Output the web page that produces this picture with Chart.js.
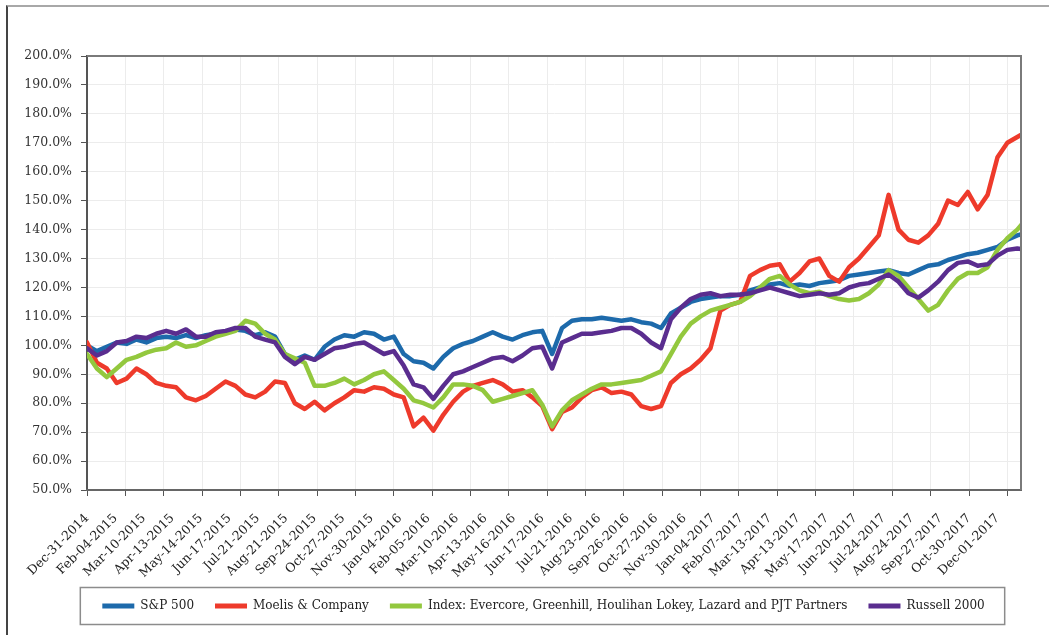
<!DOCTYPE html>
<html>
<head>
<meta charset="utf-8">
<script src="https://cdn.jsdelivr.net/npm/chart.js@4.4.1/dist/chart.umd.min.js"></script>
<style>
html,body{margin:0;padding:0;background:#fff;}
#wrap{position:relative;width:1049px;height:635px;overflow:hidden;}
canvas{position:absolute;left:0;top:0;}
#frame{position:absolute;left:6px;top:5px;right:0;bottom:0;border-top:2px solid #a8a8a8;border-left:2px solid #444;pointer-events:none;}
</style>
</head>
<body>
<div id="wrap"><canvas id="c" width="1049" height="635"></canvas><div id="frame"></div></div>
<script>
// Trading-day axis labels (one every 23 trading days)
const tickLabels = ["Dec-31-2014","Feb-04-2015","Mar-10-2015","Apr-13-2015","May-14-2015","Jun-17-2015","Jul-21-2015","Aug-21-2015","Sep-24-2015","Oct-27-2015","Nov-30-2015","Jan-04-2016","Feb-05-2016","Mar-10-2016","Apr-13-2016","May-16-2016","Jun-17-2016","Jul-21-2016","Aug-23-2016","Sep-26-2016","Oct-27-2016","Nov-30-2016","Jan-04-2017","Feb-07-2017","Mar-13-2017","Apr-13-2017","May-17-2017","Jun-20-2017","Jul-24-2017","Aug-24-2017","Sep-27-2017","Oct-30-2017","Dec-01-2017"];
const LABEL_EVERY = 23;      // trading days between labels
const TICK_EVERY = 31;       // trading days between tick marks / gridlines
const LAST_DAY = 755;        // last trading-day index on the axis
const SAMPLE_STEP = 8;       // trading days between sampled values

const seriesNames = ["S&P 500","Moelis & Company","Index: Evercore, Greenhill, Houlihan Lokey, Lazard and PJT Partners","Russell 2000"];

const sp500 = [100,98,99.5,101,100.5,102,101,102.5,103,102.5,103.5,102.5,103.5,104,104.5,105.5,105,103.5,104.5,103,
  97,95,96.5,95,99.5,102,103.5,103,104.5,104,102,103,97,94.5,94,92,96,99,100.5,101.5,
  103,104.5,103,102,103.5,104.5,105,97,106,108.5,109,109,109.5,109,108.5,109,108,107.5,106,111,
  113,115,116,116.5,117,117,117.5,119,120,121,121.5,120.5,121,120.5,121.5,122,122.5,124,124.5,125,
  125.5,126,125,124.5,126,127.5,128,129.5,130.5,131.5,132,133,134,136.5,138,139];

const moelis = [101,94,92,87,88.5,92,90,87,86,85.5,82,81,82.5,85,87.5,86,83,82,84,87.5,
  87,80,78,80.5,77.5,80,82,84.5,84,85.5,85,83,82,72,75,70.5,76,80.5,84,86,
  87,88,86.5,84,84.5,82,79,71,77,78.5,82,84.5,85.5,83.5,84,83,79,78,79,87,
  90,92,95,99,112,114,115,124,126,127.5,128,122,125,129,130,124,122,127,130,134,
  138,152,140,136.5,135.5,138,142,150,148.5,153,147,152,165,170,172,174];

const peerIndex = [97,92,89,92,95,96,97.5,98.5,99,101,99.5,100,101.5,103,104,105,108.5,107.5,104,102,
  97,95.5,94,86,86,87,88.5,86.5,88,90,91,88,85,81,80,78.5,82,86.5,86.5,86,
  84.5,80.5,81.5,82.5,83.5,84.5,79.5,72,77.5,81,83,85,86.5,86.5,87,87.5,88,89.5,91,97,
  103,107.5,110,112,113,114,115,117,120,123,124,121,119,118,118.5,117,116,115.5,116,118,
  121,126,124,120,116,112,114,119,123,125,125,127,133,137,140,144];

const russell = [99,96.5,98,101,101.5,103,102.5,104,105,104,105.5,103,103,104.5,105,106,106,103,102,101,
  96,93.5,96,95,97,99,99.5,100.5,101,99,97,98,93,86.5,85.5,81.5,86,90,91,92.5,
  94,95.5,96,94.5,96.5,99,99.5,92,101,102.5,104,104,104.5,105,106,106,104,101,99,109,
  113,116,117.5,118,117,117.5,117.5,118,119,120,119,118,117,117.5,118,117.5,118,120,121,121.5,
  123,124.5,122,118,116.5,119,122,126,128.5,129,127.5,128,131,133,133.5,133];

const colors = ["#1d6aab","#ee3a2b","#93c83e","#5a2d8f"];
const allSeries = [sp500, moelis, peerIndex, russell];

const toPoints = arr => arr.map((v, i) => ({x: i * SAMPLE_STEP, y: v}));

const serif = "'DejaVu Serif', 'Liberation Serif', serif";

const framePlugin = {
  id: 'frames',
  afterLayout(chart) {
    // centre the legend row under the plot like the original
    const lg = chart.legend;
    lg.left += 33; lg.right += 33;
  },
  afterDraw(chart) {
    const {ctx, chartArea: a} = chart;
    ctx.save();
    ctx.strokeStyle = '#7a7a7a';
    ctx.lineWidth = 2;
    ctx.beginPath();
    ctx.moveTo(a.left, a.top); ctx.lineTo(a.right, a.top); ctx.lineTo(a.right, a.bottom);
    ctx.stroke();
    const hb = chart.legend.legendHitBoxes;
    if (hb && hb.length) {
      const l = Math.min(...hb.map(h => h.left)) - 22;
      const r = Math.max(...hb.map(h => h.left + h.width)) + 20;
      const cy = hb[0].top + hb[0].height / 2;
      ctx.strokeStyle = '#8c8c8c';
      ctx.lineWidth = 1.5;
      ctx.strokeRect(l, cy - 18.5, r - l, 37);
    }
    ctx.restore();
  }
};

new Chart(document.getElementById('c'), {
  type: 'line',
  data: {
    datasets: allSeries.map((arr, k) => ({
      label: seriesNames[k],
      data: toPoints(arr),
      borderColor: colors[k],
      backgroundColor: colors[k],
      borderWidth: 4.5,
      pointRadius: 0,
      tension: 0,
      borderJoinStyle: 'round',
      borderCapStyle: 'round',
      order: 3 - k,
      xAxisID: 'x',
      yAxisID: 'y'
    }))
  },
  options: {
    responsive: false,
    animation: false,
    devicePixelRatio: 1,
    layout: {padding: {left: 0, right: 28, top: 56, bottom: 13}},
    plugins: {
      tooltip: {enabled: false},
      legend: {
        position: 'bottom',
        align: 'center',
        labels: {
          boxWidth: 32,
          boxHeight: 5,
          padding: 21,
          color: '#222',
          font: {family: serif, size: 12},
          sort: (a, b) => a.datasetIndex - b.datasetIndex,
          generateLabels(chart) {
            const items = Chart.defaults.plugins.legend.labels.generateLabels(chart);
            items.forEach(it => { it.lineWidth = 0; });
            return items;
          }
        }
      }
    },
    scales: {
      y: {
        min: 50, max: 200,
        ticks: {stepSize: 10, maxTicksLimit: 100, includeBounds: false,
          callback: v => v.toFixed(1) + '%', color: '#333',
          font: {family: serif, size: 12.5}, padding: 9},
        grid: {color: '#ececec', tickColor: '#555', tickLength: 6, lineWidth: 1},
        border: {color: '#555', width: 2},
        afterFit(s) { s.width = 87; }
      },
      x: {
        type: 'linear', position: 'bottom', weight: 0,
        min: 0, max: LAST_DAY,
        ticks: {display: false, stepSize: TICK_EVERY, maxTicksLimit: 100, includeBounds: false, autoSkip: false},
        grid: {color: '#ececec', tickColor: '#555', tickLength: 6, lineWidth: 1},
        border: {color: '#666', width: 2},
        afterFit(s) { s.height = 6; }
      },
      xl: {
        type: 'linear', position: 'bottom', weight: 1,
        min: 0, max: LAST_DAY,
        ticks: {stepSize: LABEL_EVERY, maxTicksLimit: 100, includeBounds: false, autoSkip: false,
          minRotation: 45, maxRotation: 45, padding: 7, color: '#222',
          font: {family: serif, size: 12.5},
          callback: v => { const l = tickLabels[Math.round(v / LABEL_EVERY)]; return l === undefined ? '' : l; }},
        grid: {display: false},
        border: {display: false},
        afterFit(s) { s.height = 83; }
      }
    }
  },
  plugins: [framePlugin]
});
</script>
</body>
</html>
